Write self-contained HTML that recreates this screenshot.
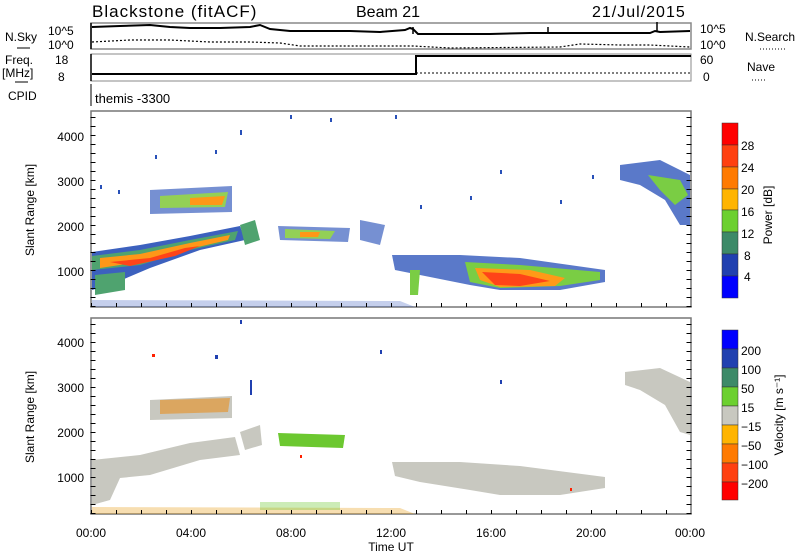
<!DOCTYPE html>
<html><head><meta charset="utf-8"><style>
body{margin:0;background:#fff;}
svg{display:block;font-family:"Liberation Sans",sans-serif;}
</style></head><body>
<svg width="800" height="554" viewBox="0 0 800 554" xmlns="http://www.w3.org/2000/svg">
<rect width="800" height="554" fill="#fff"/>
<text x="92" y="17" font-size="17" letter-spacing="1">Blackstone (fitACF)</text>
<text x="356" y="17" font-size="16">Beam 21</text>
<text x="592" y="17" font-size="16" letter-spacing="1">21/Jul/2015</text>
<!-- N.Sky panel -->
<rect x="91" y="23" width="600" height="26" fill="none" stroke="#888" stroke-width="1.5"/>
<line x1="91" y1="23" x2="91" y2="49" stroke="#000" stroke-width="1.5"/>
<polyline fill="none" stroke="#000" stroke-width="2" points="92,27 120,26 150,25 170,27 190,28 220,28 250,27 260,25 270,29 290,31 320,31 350,31 380,32 405,30 410,28 413,29 418,34 450,34 490,34 530,33 550,33 555,33 580,33 620,33 650,33 655,31 660,32 690,31"/>
<line x1="413" y1="27" x2="413" y2="34" stroke="#000" stroke-width="1.5"/>
<line x1="548" y1="27" x2="548" y2="33" stroke="#000" stroke-width="1.5"/>
<line x1="657" y1="22" x2="657" y2="32" stroke="#000" stroke-width="1.5"/>
<polyline fill="none" stroke="#000" stroke-width="1.2" stroke-dasharray="2,2" points="92,42 130,40 170,40 210,42 250,42 280,43 300,46 413,46 450,48 560,47 580,44 620,45 650,45 690,47"/>
<text x="48" y="35" font-size="12">10^5</text><text x="48" y="49" font-size="12">10^0</text>
<text x="5" y="41" font-size="12">N.Sky</text><line x1="17" y1="48" x2="30" y2="48" stroke="#000"/>
<text x="700" y="33" font-size="12">10^5</text><text x="700" y="49" font-size="12">10^0</text>
<text x="745" y="41" font-size="12">N.Search</text><line x1="760" y1="49" x2="785" y2="49" stroke="#000" stroke-dasharray="1,2"/>
<!-- Freq panel -->
<rect x="91" y="54" width="600" height="27" fill="none" stroke="#888" stroke-width="1"/>
<line x1="91" y1="54" x2="91" y2="81" stroke="#000" stroke-width="1.5"/>
<polyline fill="none" stroke="#000" stroke-width="2" points="92,74 416,74 416,56 691,56"/>
<line x1="416" y1="73" x2="690" y2="73" stroke="#000" stroke-dasharray="2,2"/>
<text x="55" y="64" font-size="12">18</text><text x="58" y="81" font-size="12">8</text>
<text x="5" y="64" font-size="12">Freq.</text><text x="2" y="77" font-size="12">[MHz]</text><line x1="15" y1="82" x2="28" y2="82" stroke="#000"/>
<text x="700" y="64" font-size="12">60</text><text x="703" y="81" font-size="12">0</text>
<text x="747" y="71" font-size="12">Nave</text><line x1="752" y1="80" x2="765" y2="80" stroke="#000" stroke-dasharray="1,2"/>
<text x="8" y="100" font-size="12">CPID</text>
<line x1="91" y1="84" x2="91" y2="106" stroke="#000"/>
<text x="95" y="103" font-size="13">themis -3300</text>
<!-- Panel 1 -->
<rect x="91" y="111" width="600" height="196" fill="none" stroke="#777" stroke-width="1.5"/>
<g opacity="0.9">
<path d="M92,252 L140,245 L190,236 L240,226 L245,240 L200,250 L150,268 L110,285 L92,290Z" fill="#2850b8"/>
<path d="M92,256 L140,250 L190,240 L238,231 L235,240 L190,250 L140,265 L92,270Z" fill="#3d9a60"/>
<path d="M100,258 L140,254 L190,243 L230,235 L228,240 L185,250 L140,262 L100,268Z" fill="#ff8c00"/>
<path d="M110,262 L150,258 L185,248 L200,246 L175,256 L130,266Z" fill="#ff3000"/>
<path d="M95,275 L125,272 L125,290 L95,295Z" fill="#3d9a60"/>
<path d="M150,190 L232,186 L232,212 L150,214Z" fill="#2850b8" opacity="0.7"/>
<path d="M160,196 L228,192 L225,207 L160,208Z" fill="#88cc44"/>
<path d="M190,198 L225,196 L222,205 L190,205Z" fill="#ff8c00"/>
<path d="M240,225 L255,220 L260,240 L245,245Z" fill="#3d9a60"/>
<path d="M278,226 L350,228 L348,242 L280,240Z" fill="#2850b8" opacity="0.7"/>
<path d="M285,229 L335,231 L330,239 L285,238Z" fill="#88cc44"/>
<path d="M300,232 L320,232 L318,237 L300,237Z" fill="#ff8c00"/>
<path d="M360,220 L385,225 L380,245 L360,240Z" fill="#2850b8" opacity="0.7"/>
<path d="M392,255 L460,255 L520,258 L605,270 L605,282 L560,290 L500,290 L470,285 L420,275 L395,270Z" fill="#2850b8" opacity="0.85"/>
<path d="M465,262 L520,265 L600,272 L600,280 L560,286 L500,288 L470,282Z" fill="#6cc830"/>
<path d="M475,268 L530,270 L565,278 L555,286 L500,287 L480,280Z" fill="#ff9000"/>
<path d="M482,272 L520,274 L550,281 L520,286 L495,285Z" fill="#ff3000"/>
<path d="M410,270 L420,270 L418,295 L410,295Z" fill="#6cc830"/>
<path d="M620,165 L660,160 L690,175 L690,225 L680,225 L665,200 L640,185 L620,180Z" fill="#2850b8" opacity="0.85"/>
<path d="M648,175 L680,180 L688,195 L675,205 L660,190Z" fill="#6cc830"/>
<path d="M92,300 L400,301 L415,307 L92,307Z" fill="#2850b8" opacity="0.3"/>
</g>
<g fill="#2850b8">
<rect x="100" y="185" width="2" height="4"/><rect x="118" y="190" width="2" height="4"/><rect x="215" y="150" width="2" height="4"/><rect x="240" y="130" width="2" height="5"/><rect x="330" y="118" width="2" height="4"/><rect x="290" y="115" width="2" height="4"/><rect x="470" y="196" width="2" height="4"/><rect x="500" y="170" width="2" height="4"/><rect x="592" y="175" width="2" height="4"/><rect x="420" y="205" width="2" height="4"/><rect x="155" y="155" width="2" height="4"/><rect x="395" y="115" width="2" height="4"/><rect x="560" y="200" width="2" height="4"/>
</g>
<!-- ticks panel 1 -->
<line x1="91" y1="307" x2="91" y2="111" stroke="#000" stroke-width="5" stroke-dasharray="1,8" transform="translate(2,0)"/>
<line x1="691" y1="307" x2="691" y2="111" stroke="#000" stroke-width="5" stroke-dasharray="1,8" transform="translate(-2,0)"/>
<g font-size="12" text-anchor="end">
<text x="84" y="141">4000</text><text x="84" y="186">3000</text><text x="84" y="231">2000</text><text x="84" y="276">1000</text>
</g>
<text transform="translate(34,210) rotate(-90)" font-size="12" text-anchor="middle">Slant Range [km]</text>
<!-- Panel 2 -->
<rect x="91" y="318" width="600" height="196" fill="none" stroke="#777" stroke-width="1.5"/>
<g>
<path d="M92,460 L140,455 L190,443 L235,437 L240,455 L200,460 L150,475 L120,478 L110,500 L92,505Z" fill="#c8c8c0"/>
<path d="M150,400 L232,396 L232,418 L150,420Z" fill="#c8c8c0"/>
<path d="M160,400 L230,398 L228,412 L160,414Z" fill="#e89020" opacity="0.6"/>
<path d="M240,432 L260,425 L262,445 L245,450Z" fill="#c8c8c0"/>
<path d="M278,433 L345,435 L343,448 L280,446Z" fill="#6cc830"/>
<path d="M392,462 L460,462 L520,466 L605,477 L605,488 L560,495 L500,495 L470,490 L420,482 L395,476Z" fill="#c8c8c0"/>
<path d="M625,372 L660,368 L690,382 L690,435 L680,432 L665,405 L640,390 L625,385Z" fill="#c8c8c0"/>
<path d="M92,507 L400,508 L415,514 L92,514Z" fill="#e8a020" opacity="0.35"/>
<rect x="260" y="502" width="80" height="8" fill="#6cc830" opacity="0.35"/>
</g>
<g fill="#2040b0">
<rect x="250" y="380" width="2" height="15"/><rect x="240" y="320" width="2" height="4"/><rect x="215" y="355" width="3" height="4"/><rect x="380" y="350" width="2" height="4"/><rect x="500" y="380" width="2" height="4"/>
</g>
<g fill="#ff2000"><rect x="152" y="354" width="3" height="3"/><rect x="300" y="455" width="2" height="3"/><rect x="570" y="488" width="2" height="3"/></g>
<line x1="91" y1="514" x2="91" y2="318" stroke="#000" stroke-width="5" stroke-dasharray="1,8" transform="translate(2,0)"/>
<line x1="691" y1="514" x2="691" y2="318" stroke="#000" stroke-width="5" stroke-dasharray="1,8" transform="translate(-2,0)"/>
<!-- x ticks -->
<line x1="91" y1="512" x2="691" y2="512" stroke="#000" stroke-width="4" stroke-dasharray="1,24"/>
<line x1="91" y1="305" x2="691" y2="305" stroke="#000" stroke-width="4" stroke-dasharray="1,24"/>
<g font-size="12" text-anchor="end">
<text x="84" y="347">4000</text><text x="84" y="392">3000</text><text x="84" y="437">2000</text><text x="84" y="482">1000</text>
</g>
<text transform="translate(34,417) rotate(-90)" font-size="12" text-anchor="middle">Slant Range [km]</text>
<g font-size="12" text-anchor="middle">
<text x="91" y="537">00:00</text><text x="191" y="537">04:00</text><text x="291" y="537">08:00</text><text x="391" y="537">12:00</text><text x="491" y="537">16:00</text><text x="591" y="537">20:00</text><text x="690" y="537">00:00</text>
<text x="391" y="551">Time UT</text>
</g>
<!-- Power colorbar -->
<g stroke="#333" stroke-width="0.5">
<rect x="722" y="123" width="16" height="22" fill="#ff0000"/>
<rect x="722" y="145" width="16" height="22" fill="#ff4010"/>
<rect x="722" y="167" width="16" height="22" fill="#ff7a00"/>
<rect x="722" y="189" width="16" height="21" fill="#ffb400"/>
<rect x="722" y="210" width="16" height="22" fill="#6cd030"/>
<rect x="722" y="232" width="16" height="22" fill="#3d8a68"/>
<rect x="722" y="254" width="16" height="22" fill="#2040b0"/>
<rect x="722" y="276" width="16" height="22" fill="#0000ff"/>
</g>
<g font-size="12"><text x="741" y="150">28</text><text x="741" y="172">24</text><text x="741" y="194">20</text><text x="741" y="216">16</text><text x="741" y="238">12</text><text x="744" y="260">8</text><text x="744" y="281">4</text></g>
<text transform="translate(772,215) rotate(-90)" font-size="12" text-anchor="middle">Power [dB]</text>
<!-- Velocity colorbar -->
<g stroke="#333" stroke-width="0.5">
<rect x="722" y="330" width="16" height="19" fill="#0000ff"/>
<rect x="722" y="349" width="16" height="19" fill="#2040b0"/>
<rect x="722" y="368" width="16" height="19" fill="#3d8a68"/>
<rect x="722" y="387" width="16" height="19" fill="#6cd030"/>
<rect x="722" y="406" width="16" height="19" fill="#c8c8c0"/>
<rect x="722" y="425" width="16" height="19" fill="#ffb400"/>
<rect x="722" y="444" width="16" height="19" fill="#ff7a00"/>
<rect x="722" y="463" width="16" height="19" fill="#ff4010"/>
<rect x="722" y="482" width="16" height="18" fill="#ff0000"/>
</g>
<g font-size="12"><text x="741" y="355">200</text><text x="741" y="374">100</text><text x="741" y="393">50</text><text x="741" y="412">15</text><text x="741" y="431">−15</text><text x="741" y="450">−50</text><text x="741" y="469">−100</text><text x="741" y="488">−200</text></g>
<text transform="translate(783,415) rotate(-90)" font-size="12" text-anchor="middle">Velocity [m s⁻¹]</text>
</svg>
</body></html>
